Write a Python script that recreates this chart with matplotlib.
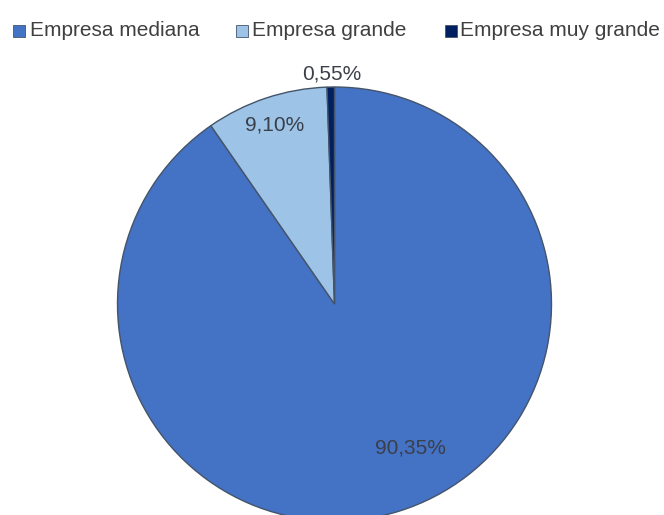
import matplotlib
matplotlib.use('Agg')
import matplotlib.pyplot as plt
from matplotlib.patches import Rectangle

# company size shares (%)
labels = ['Empresa mediana', 'Empresa grande', 'Empresa muy grande']
shares = [90.35, 9.10, 0.55]
colors = ['#4472C4', '#9DC3E6', '#002060']

plt.rcParams['font.family'] = ['Liberation Sans', 'DejaVu Sans']

W, H = 664, 515
fig = plt.figure(figsize=(W / 100, H / 100), dpi=100)
ax = fig.add_axes([0, 0, 1, 1])

cx, cy, r = 334.5, H - 304, 217
wedges, _ = ax.pie(shares, colors=colors, startangle=90, counterclock=False,
                   center=(cx, cy), radius=r, frame=True,
                   wedgeprops=dict(edgecolor='#44546A', linewidth=1.0))
ax.set_xlim(0, W)
ax.set_ylim(0, H)
ax.set_aspect('equal')
ax.axis('off')

# value labels (pixel positions from the top-left corner)
label_pos = [(410, 448), (275, 125), (332, 74)]
for val, (x, y) in zip(shares, label_pos):
    txt = f'{val:.2f}%'.replace('.', ',')
    ax.text(x, H - y, txt, ha='center', va='center', fontsize=15, color='#3A3F4A')

# legend row drawn by hand: square + text for each slice
box_x = [13, 236, 445]
text_x = [30, 252, 460]
ly = H - 31
for bx, tx, lab, col in zip(box_x, text_x, labels, colors):
    ax.add_patch(Rectangle((bx, ly - 6), 12, 12, facecolor=col,
                           edgecolor='#44546A', linewidth=0.6, clip_on=False))
    ax.text(tx, ly, lab, ha='left', va='center', fontsize=15, color='#404040')

fig.savefig('out.png', dpi=100)
